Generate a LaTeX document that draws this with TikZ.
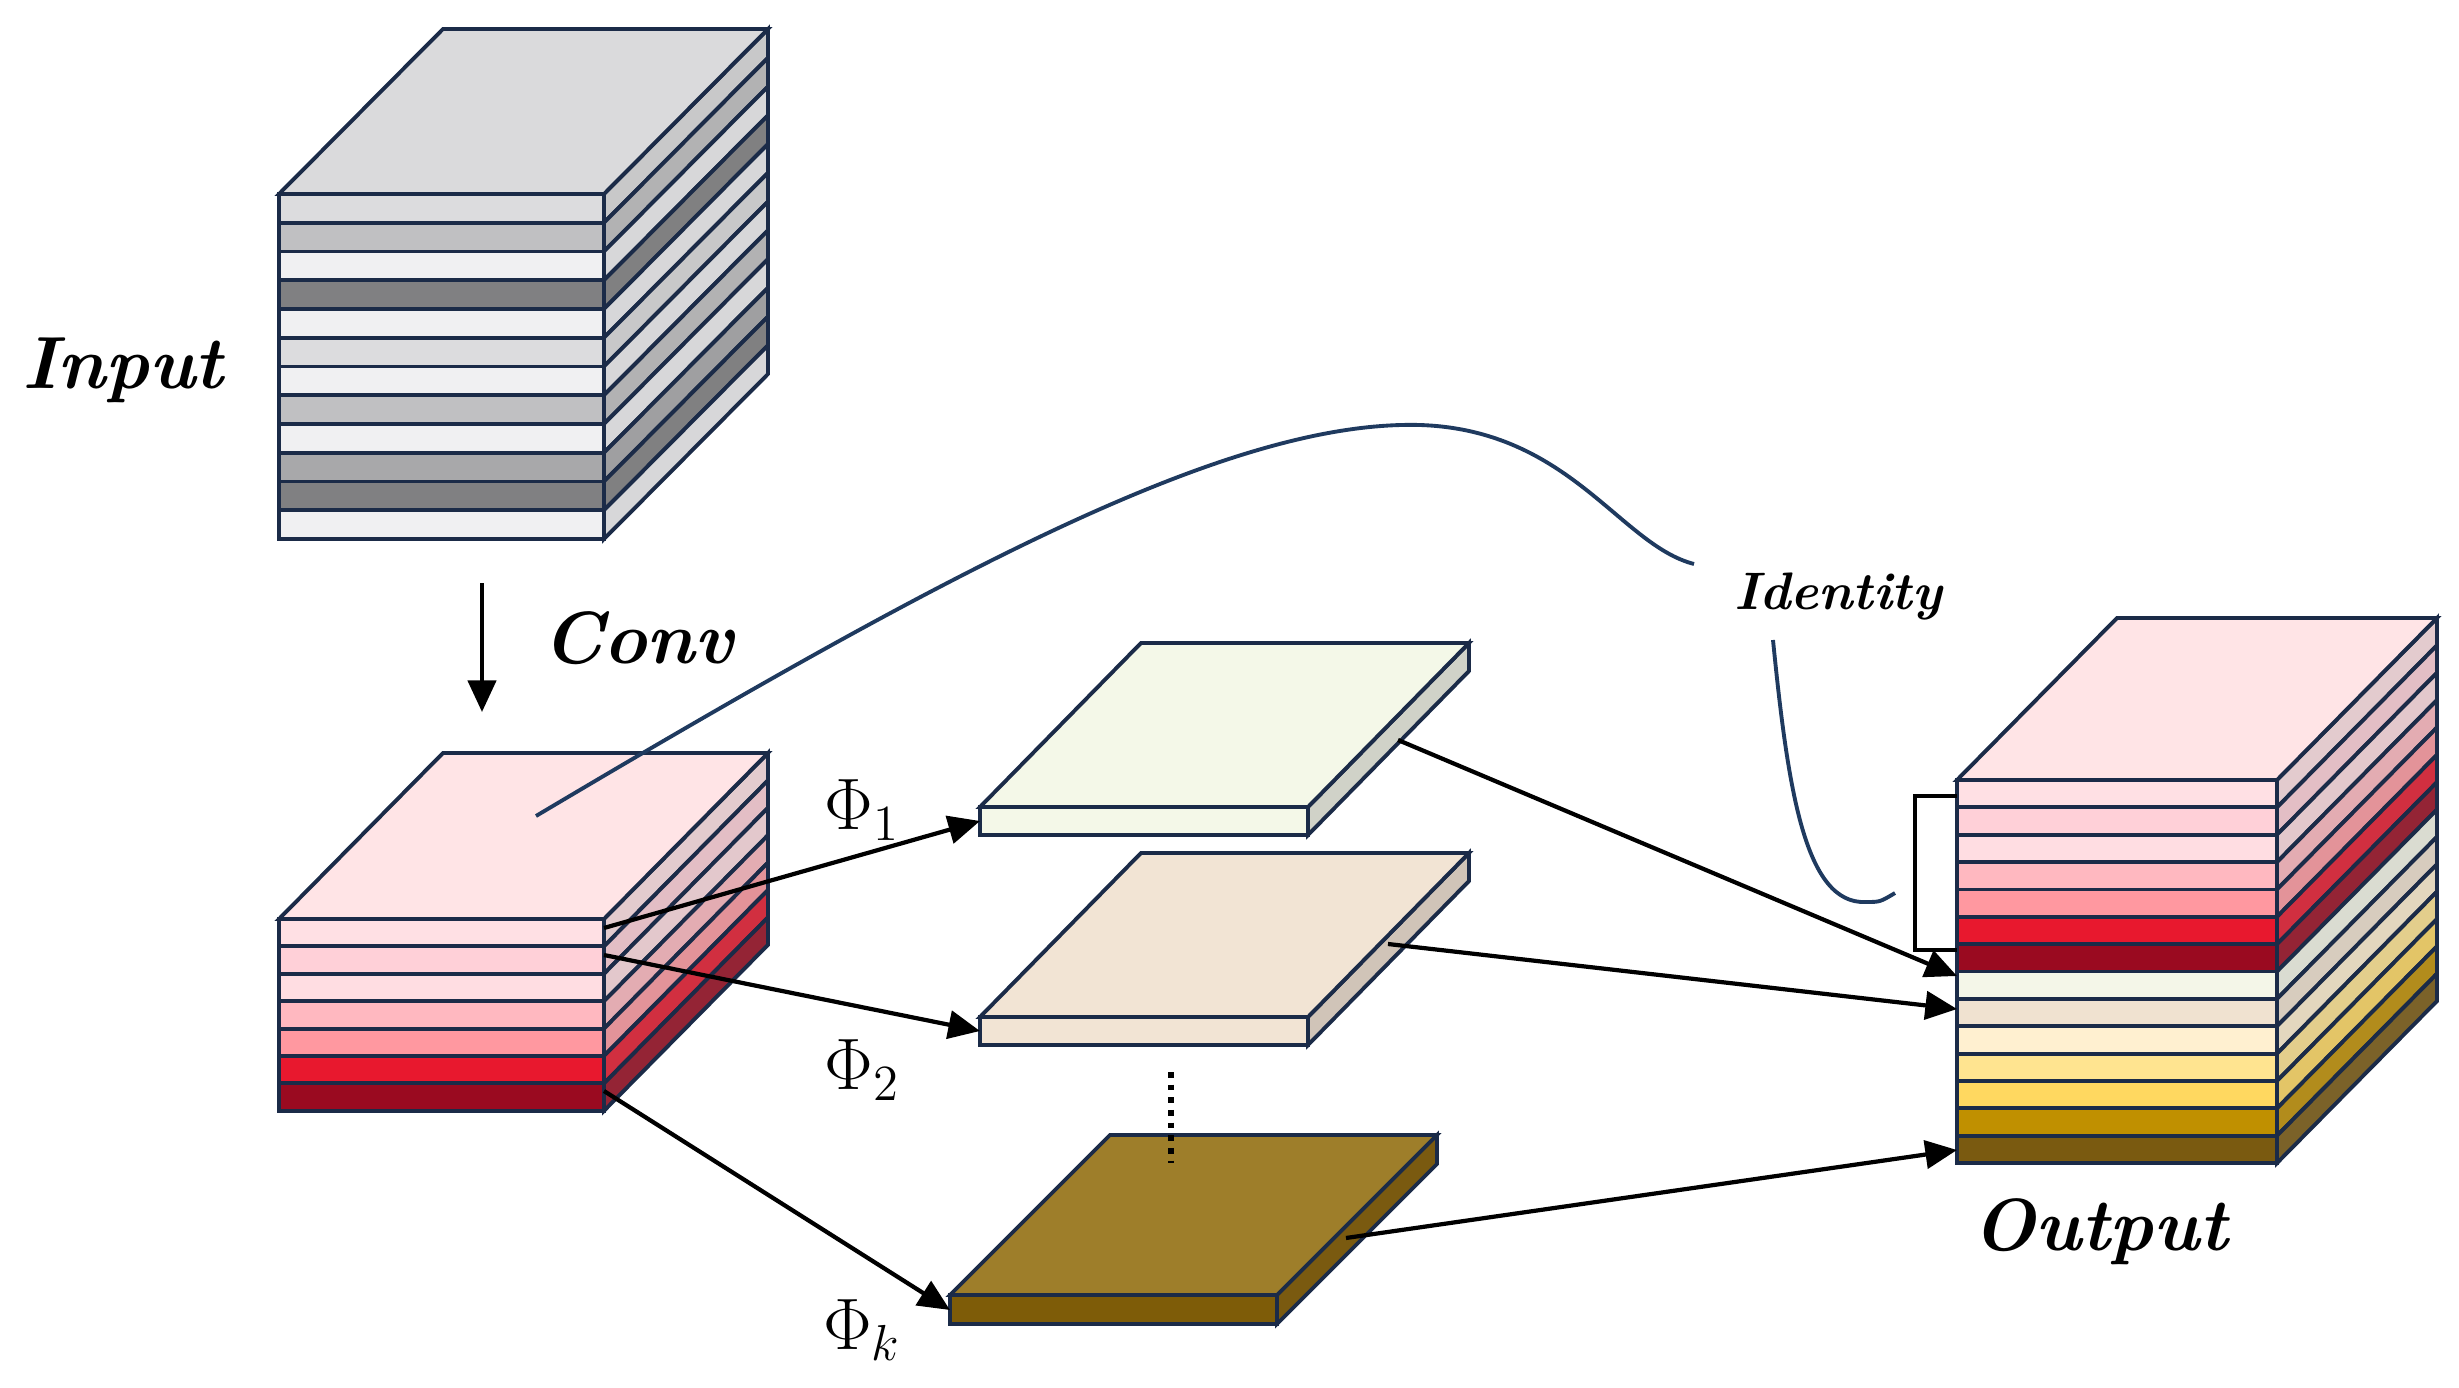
\documentclass[tikz,border=0pt]{standalone}
\usetikzlibrary{arrows.meta}
\definecolor{edge}{HTML}{1B2B48}
\definecolor{curvec}{HTML}{1F3A5F}
\definecolor{ga}{HTML}{DCDCDE}\definecolor{gb}{HTML}{C0C0C2}\definecolor{gc}{HTML}{F0F0F2}
\definecolor{gd}{HTML}{808082}\definecolor{ge}{HTML}{A8A8AA}\definecolor{gtop}{HTML}{DADADC}
\definecolor{oA}{HTML}{FFE0E4}\definecolor{oB}{HTML}{FFD0D8}\definecolor{oC}{HTML}{FFDDE2}
\definecolor{oD}{HTML}{FFB8C0}\definecolor{oE}{HTML}{FF98A0}\definecolor{oF}{HTML}{E8182E}
\definecolor{oG}{HTML}{9A0A20}\definecolor{oH}{HTML}{F4F6E8}\definecolor{oI}{HTML}{F0E2D0}
\definecolor{oJ}{HTML}{FFF0D0}\definecolor{oK}{HTML}{FFE490}\definecolor{oL}{HTML}{FFD860}
\definecolor{oM}{HTML}{C09000}\definecolor{oN}{HTML}{7A5A10}\definecolor{ptop}{HTML}{FFE4E6}
\definecolor{sa}{HTML}{F4F8E8}\definecolor{saS}{HTML}{D0D2C8}
\definecolor{sb}{HTML}{F2E4D4}\definecolor{sbS}{HTML}{D0C4B8}
\definecolor{sk}{HTML}{9E7E2A}\definecolor{skF}{HTML}{7E5C08}\definecolor{skS}{HTML}{7A5A10}
% #1 L, #2 T, #3 W, #4 stripe h, #5 dx, #6 dy, #7 top colour, #8 colour list
\newcommand\stackbox[8]{%
  \foreach \c [count=\i from 0] in {#8}{%
    \pgfmathsetmacro\ya{#2+\i*#4}\pgfmathsetmacro\yb{\ya+#4}%
    \filldraw[box,fill=\c] (#1,\ya) rectangle (#1+#3,\yb);
    \filldraw[box,fill=\c!78!gray] (#1+#3,\ya) -- ++(#5,#6) -- ++(0,#4) -- (#1+#3,\yb) -- cycle;
  }%
  \filldraw[box,fill=#7] (#1,#2) -- ++(#5,#6) -- ++(#3,0) -- (#1+#3,#2) -- cycle;
}
% #1 L, #2 T, #3 W, #4 H, #5 dx, #6 dy, #7 top, #8 front, #9 side
\newcommand\slab[9]{%
  \filldraw[box,fill=#8] (#1,#2) rectangle (#1+#3,#2+#4);
  \filldraw[box,fill=#9] (#1+#3,#2) -- ++(#5,#6) -- ++(0,#4) -- (#1+#3,#2+#4) -- cycle;
  \filldraw[box,fill=#7] (#1,#2) -- ++(#5,#6) -- ++(#3,0) -- (#1+#3,#2) -- cycle;
}
\begin{document}
\begin{tikzpicture}[x=0.01cm,y=-0.01cm,
  box/.style={draw=edge,line width=1.1pt,line join=miter},
  arr/.style={draw=black,line width=1.2pt,-{Triangle[length=9pt,width=8pt]}},
  lab/.style={font=\fontsize{21}{25}\selectfont\bfseries\itshape,inner sep=0pt},
  phi/.style={font=\fontsize{22}{26}\selectfont,inner sep=0pt}]
\useasboundingbox (0,0) rectangle (2459,1388);
% cubes
\stackbox{279}{194}{325}{28.75}{164}{-165}{gtop}{ga,gb,gc,gd,gc,ga,gc,gb,gc,ge,gd,gc}
\stackbox{279}{919}{325}{27.4}{164}{-166}{ptop}{oA,oB,oC,oD,oE,oF,oG}
\stackbox{1957}{780}{320}{27.36}{160}{-162}{ptop}{oA,oB,oC,oD,oE,oF,oG,oH,oI,oJ,oK,oL,oM,oN}
% slabs
\slab{980}{807}{328}{28}{161}{-164}{sa}{sa}{saS}
\slab{980}{1017}{328}{28}{161}{-164}{sb}{sb}{sbS}
\slab{950}{1295}{327}{29}{160}{-160}{sk}{skF}{skS}
\draw[line width=1.6pt,dotted] (1171,1072) -- (1171,1163);
% labels
\node[lab] (input) at (123,370) {Input};
\node[lab] (conv) at (638,638) {Conv};
\node[lab] (output) at (2100,1232) {Output};
\node[font=\fontsize{15}{18}\selectfont\bfseries\itshape,inner sep=2pt] (identity) at (1838,596) {Identity};
\node[phi] (p1) at (862,810) {$\Phi_1$};
\node[phi] (p2) at (862,1070) {$\Phi_2$};
\node[phi] (pk) at (862,1330) {$\Phi_k$};
% coordinates
\coordinate (cs) at (482,583); \coordinate (ce) at (482,712);
\coordinate (a1) at (604,928); \coordinate (a2) at (604,955); \coordinate (a3) at (604,1091);
\coordinate (s1) at (980,821); \coordinate (s2) at (980,1031); \coordinate (sk) at (950,1310);
\coordinate (b1) at (1398,740); \coordinate (b2) at (1388,944); \coordinate (bk) at (1346,1238);
\coordinate (t1) at (1957,976); \coordinate (t2) at (1957,1009); \coordinate (tk) at (1957,1150);
\coordinate (c0) at (536,816); \coordinate (c1) at (1694,564);
\coordinate (c2) at (1773,640); \coordinate (c3) at (1895,893);
% arrows
\draw[arr] (cs) -- (ce);
\draw[arr] (a1) -- (s1);
\draw[arr] (a2) -- (s2);
\draw[arr] (a3) -- (sk);
\draw[arr] (b1) -- (t1);
\draw[arr] (b2) -- (t2);
\draw[arr] (bk) -- (tk);
% identity curve
\draw[curvec,line width=1.1pt] (c0) .. controls (950,570) and (1230,420) .. (1420,425)
  .. controls (1570,430) and (1620,545) .. (c1);
\draw[curvec,line width=1.1pt] (c2) .. controls (1788,790) and (1805,905) .. (1866,902)
  .. controls (1880,902) .. (c3);
% bracket
\draw[black,line width=1.4pt] (1957,796) -- (1915,796) -- (1915,950) -- (1957,950);
\end{tikzpicture}
\end{document}
